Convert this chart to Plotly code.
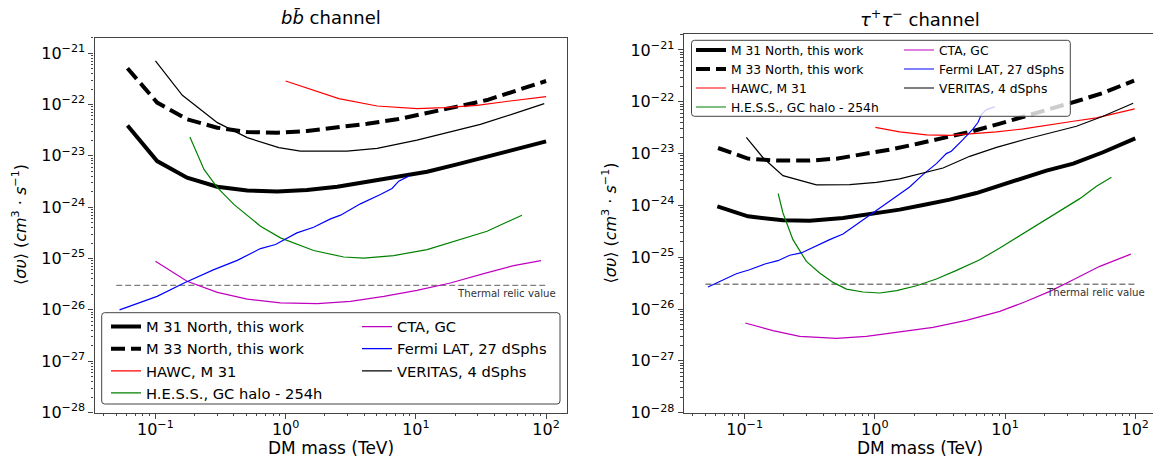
import math
import plotly.graph_objects as go

W, H = 1153, 459
FONT = "DejaVu Sans"

# ---------------- b b-bar channel ----------------
bb_m31_mass = [0.061, 0.103, 0.175, 0.298, 0.507, 0.861, 1.46, 2.49, 4.23, 7.18, 12.2, 20.7, 35.2, 59.8, 100]
bb_m31_sv = [3.9e-23, 7.9e-24, 3.74e-24, 2.5e-24, 2.11e-24, 2.02e-24, 2.15e-24, 2.49e-24, 3.12e-24,
             3.91e-24, 4.9e-24, 6.8e-24, 9.6e-24, 1.34e-23, 1.91e-23]
bb_m33_mass = [0.061, 0.103, 0.175, 0.298, 0.507, 0.861, 1.46, 2.49, 4.23, 7.18, 12.2, 20.7, 35.2, 59.8, 100]
bb_m33_sv = [5.08e-22, 1.09e-22, 5.14e-23, 3.53e-23, 2.9e-23, 2.82e-23, 3.05e-23, 3.53e-23, 4.22e-23,
             5.14e-23, 6.73e-23, 9.08e-23, 1.22e-22, 1.84e-22, 2.87e-22]
bb_hawc_mass = [1.0, 1.55, 2.56, 5.04, 10.2, 16.4, 29.5, 53, 100]
bb_hawc_sv = [2.87e-22, 1.98e-22, 1.3e-22, 9.35e-23, 8.3e-23, 8.7e-23, 9.6e-23, 1.17e-22, 1.42e-22]
bb_hess_mass = [0.184, 0.236, 0.299, 0.40, 0.641, 0.912, 1.64, 2.79, 3.98, 6.76, 12.2, 22, 35.2, 65.3]
bb_hess_sv = [2.32e-23, 5.43e-24, 2.4e-24, 1.13e-24, 4.26e-25, 2.52e-25, 1.43e-25, 1.07e-25, 1.02e-25,
              1.14e-25, 1.49e-25, 2.34e-25, 3.4e-25, 6.97e-25]
bb_cta_mass = [0.1, 0.175, 0.299, 0.507, 0.912, 1.75, 3.15, 5.68, 10.2, 18.4, 33.2, 56.4, 91.4]
bb_cta_sv = [8.8e-26, 3.59e-26, 2.19e-26, 1.62e-26, 1.36e-26, 1.32e-26, 1.46e-26, 1.83e-26, 2.4e-26,
             3.33e-26, 5.07e-26, 7.26e-26, 9.1e-26]
bb_fermi_mass = [0.053, 0.0817, 0.103, 0.166, 0.281, 0.425, 0.641, 0.836, 1.22, 1.64, 2.21, 2.64, 3.75,
                 5.34, 6.56, 7.39, 8.82]
bb_fermi_sv = [1.0e-26, 1.5e-26, 1.83e-26, 3.33e-26, 6.07e-26, 9.2e-26, 1.56e-25, 1.87e-25, 3.15e-25,
               4.07e-25, 5.92e-25, 6.98e-25, 1.16e-24, 1.77e-24, 2.31e-24, 3.21e-24, 4.02e-24]
bb_veritas_mass = [0.1, 0.161, 0.299, 0.507, 0.887, 1.3, 2.96, 5.04, 10.2, 17.3, 31.3, 59.8, 96.8]
bb_veritas_sv = [7.08e-22, 1.51e-22, 4.43e-23, 2.26e-23, 1.44e-23, 1.24e-23, 1.24e-23, 1.4e-23, 2.03e-23,
                 2.82e-23, 4.1e-23, 6.93e-23, 1.04e-22]

# ---------------- tau+ tau- channel ----------------
tt_m31_mass = [0.0617, 0.106, 0.197, 0.316, 0.57, 0.969, 1.55, 2.35, 3.76, 6.03, 9.66, 15.5, 20.8, 33.4, 56.6, 100]
tt_m31_sv = [9.6e-25, 6.15e-25, 5.15e-25, 5.07e-25, 5.71e-25, 6.82e-25, 8.28e-25, 1.02e-24, 1.29e-24,
             1.73e-24, 2.51e-24, 3.75e-24, 4.69e-24, 6.4e-24, 1.06e-23, 1.97e-23]
tt_m33_mass = [0.0625, 0.106, 0.175, 0.316, 0.507, 0.812, 1.3, 2.09, 3.34, 5.36, 8.59, 13.8, 22.1, 35.4, 56.6, 98]
tt_m33_sv = [1.28e-23, 7.98e-24, 7.31e-24, 7.31e-24, 7.98e-24, 9.53e-24, 1.19e-23, 1.53e-23, 2.0e-23,
             2.61e-23, 3.62e-23, 5.09e-23, 7.27e-23, 1.02e-22, 1.48e-22, 2.56e-22]
tt_hawc_mass = [1.01, 1.55, 2.49, 3.76, 5.36, 8.59, 13.8, 22.1, 33.4, 50.4, 71.8, 99]
tt_hawc_sv = [3.21e-23, 2.61e-23, 2.29e-23, 2.25e-23, 2.39e-23, 2.61e-23, 2.99e-23, 3.62e-23, 4.2e-23,
              4.87e-23, 6.08e-23, 7.27e-23]
tt_hess_mass = [0.181, 0.197, 0.235, 0.298, 0.377, 0.478, 0.605, 0.812, 1.09, 1.47, 2.09, 2.97, 4.24,
                6.4, 9.12, 13.0, 18.5, 26.4, 37.5, 50.4, 65.6]
tt_hess_sv = [1.68e-24, 7.13e-25, 2.18e-25, 8.3e-26, 4.95e-26, 3.27e-26, 2.43e-26, 2.13e-26, 2.04e-26,
              2.26e-26, 2.82e-26, 3.79e-26, 5.57e-26, 8.95e-26, 1.51e-25, 2.61e-25, 4.38e-25, 7.68e-25,
              1.35e-24, 2.33e-24, 3.48e-24]
tt_cta_mass = [0.101, 0.165, 0.265, 0.507, 0.861, 1.55, 2.8, 5.05, 9.12, 14.6, 22.1, 33.4, 53.4, 92.5]
tt_cta_sv = [5.37e-27, 3.82e-27, 2.97e-27, 2.71e-27, 2.97e-27, 3.6e-27, 4.43e-27, 6.04e-27, 9.0e-27,
             1.41e-26, 2.19e-26, 3.68e-26, 6.67e-26, 1.15e-25]
tt_fermi_mass = [0.0523, 0.0643, 0.0863, 0.109, 0.143, 0.18, 0.222, 0.272, 0.356, 0.45, 0.57, 0.721,
                 0.912, 1.16, 1.46, 1.85, 2.34, 2.97, 3.54, 3.87, 4.75, 5.68, 6.21, 6.58, 7.19, 8.34]
tt_fermi_sv = [2.66e-26, 3.42e-26, 4.81e-26, 5.74e-26, 7.4e-26, 8.57e-26, 1.09e-25, 1.21e-25, 1.69e-25,
               2.18e-25, 2.8e-25, 4.25e-25, 6.33e-25, 9.6e-25, 1.5e-24, 2.27e-24, 3.92e-24, 6.4e-24,
               9.98e-24, 1.11e-23, 1.86e-23, 2.99e-23, 4.02e-23, 5.65e-23, 7.05e-23, 7.94e-23]
tt_veritas_mass = [0.103, 0.139, 0.197, 0.356, 0.641, 1.03, 1.55, 2.49, 3.34, 5.36, 8.59, 14.6, 22.1,
                   35.4, 56.6, 96.4]
tt_veritas_sv = [2.06e-23, 8.22e-24, 3.75e-24, 2.48e-24, 2.51e-24, 2.79e-24, 3.24e-24, 4.35e-24, 5.27e-24,
                 8.85e-24, 1.32e-23, 1.91e-23, 2.5e-23, 3.36e-23, 5.24e-23, 9.33e-23]

# thermal relic cross section
relic_mass = [0.05, 100]
relic_sv = [3e-26, 3e-26]

# axis ticks
x_ticks = [0.1, 1, 10, 100]
x_ticktext = ["10<sup>−1</sup>", "10<sup>0</sup>", "10<sup>1</sup>", "10<sup>2</sup>"]
y_exps = [-28, -27, -26, -25, -24, -23, -22, -21]
y_ticks = [10.0 ** e for e in y_exps]
y_ticktext = ["10<sup>−%d</sup>" % (-e) for e in y_exps]

labels = ["M 31 North, this work", "M 33 North, this work", "HAWC, M 31", "H.E.S.S., GC halo - 254h",
          "CTA, GC", "Fermi LAT, 27 dSphs", "VERITAS, 4 dSphs"]


def px(x):
    return x / W


def py(y):
    return 1 - y / H


fig = go.Figure()

panels = [
    dict(xa="x", ya="y", leg=("legend", "legend2"),
         data=[(bb_m31_mass, bb_m31_sv), (bb_m33_mass, bb_m33_sv), (bb_hawc_mass, bb_hawc_sv),
               (bb_hess_mass, bb_hess_sv), (bb_cta_mass, bb_cta_sv), (bb_fermi_mass, bb_fermi_sv),
               (bb_veritas_mass, bb_veritas_sv)]),
    dict(xa="x2", ya="y2", leg=("legend3", "legend4"),
         data=[(tt_m31_mass, tt_m31_sv), (tt_m33_mass, tt_m33_sv), (tt_hawc_mass, tt_hawc_sv),
               (tt_hess_mass, tt_hess_sv), (tt_cta_mass, tt_cta_sv), (tt_fermi_mass, tt_fermi_sv),
               (tt_veritas_mass, tt_veritas_sv)]),
]

styles = [
    dict(color="black", width=4),
    dict(color="black", width=4, dash="14px,6px"),
    dict(color="#ff0000", width=1.2),
    dict(color="#008000", width=1.2),
    dict(color="#bf00bf", width=1.2),
    dict(color="#0000ff", width=1.2),
    dict(color="black", width=1.2),
]

for p in panels:
    fig.add_trace(go.Scatter(x=relic_mass, y=relic_sv, mode="lines", xaxis=p["xa"], yaxis=p["ya"],
                             line=dict(color="#808080", width=1.4, dash="6px,3px"),
                             showlegend=False, hoverinfo="skip"))
    for i, (m, s) in enumerate(p["data"]):
        fig.add_trace(go.Scatter(x=m, y=s, mode="lines", name=labels[i], xaxis=p["xa"], yaxis=p["ya"],
                                 line=styles[i], legend=p["leg"][0] if i < 4 else p["leg"][1]))

minor_x = [k * 10.0 ** e for e in range(-2, 3) for k in range(2, 10)]
minor_y = [k * 10.0 ** e for e in range(-28, -20) for k in range(2, 10)]
spine = "#444444"

common_x = dict(type="log", showline=True, linecolor=spine, linewidth=1.2, ticks="outside", ticklen=5,
                tickwidth=1.2, tickcolor=spine, tickmode="array", tickvals=x_ticks, ticktext=x_ticktext,
                tickfont=dict(family=FONT, size=16, color="black"), showgrid=False, zeroline=False,
                automargin=False, ticklabelstandoff=-3,
                minor=dict(ticks="outside", ticklen=2.5, tickwidth=0.9, tickcolor=spine,
                           tickmode="array", tickvals=minor_x, showgrid=False))
common_y = dict(type="log", showline=True, linecolor=spine, linewidth=1.2, ticks="outside", ticklen=5,
                tickwidth=1.2, tickcolor=spine, tickmode="array", tickvals=y_ticks, ticktext=y_ticktext,
                tickfont=dict(family=FONT, size=16, color="black"), showgrid=False, zeroline=False,
                automargin=False, range=[-28, math.log10(2e-21)],
                minor=dict(ticks="outside", ticklen=2.5, tickwidth=0.9, tickcolor=spine,
                           tickmode="array", tickvals=minor_y, showgrid=False))

x_lo = -1.468
fig.update_layout(
    xaxis=dict(common_x, domain=[px(94.5), px(567.3)], range=[x_lo, 2.163], anchor="y", mirror=True),
    yaxis=dict(common_y, domain=[py(412.5), py(37.7)], anchor="x", mirror=True),
    xaxis2=dict(common_x, domain=[px(683.7), 1.0], range=[x_lo, x_lo + (W - 683.7) / 130.2],
                anchor="y2", mirror=True),
    yaxis2=dict(common_y, domain=[py(412.7), py(34.3)], anchor="x2", mirror=False),
)

leg_common = dict(xanchor="left", yanchor="top", bgcolor="rgba(0,0,0,0)", borderwidth=0,
                  tracegroupgap=0, itemwidth=30)
fig.update_layout(
    legend=dict(leg_common, x=px(106), y=py(310.5), font=dict(family=FONT, size=14.7, color="black")),
    legend2=dict(leg_common, x=px(357), y=py(310.5), font=dict(family=FONT, size=14.7, color="black")),
    legend3=dict(leg_common, x=px(691), y=py(35.5), font=dict(family=FONT, size=12.3, color="black")),
    legend4=dict(leg_common, x=px(899), y=py(35.5), font=dict(family=FONT, size=12.3, color="black")),
)


def rounded_box(x0, y0, x1, y1, r=3):
    # rounded rectangle path in pixel space converted to paper coordinates
    pts = (f"M {px(x0 + r)},{py(y0)} L {px(x1 - r)},{py(y0)} Q {px(x1)},{py(y0)} {px(x1)},{py(y0 + r)} "
           f"L {px(x1)},{py(y1 - r)} Q {px(x1)},{py(y1)} {px(x1 - r)},{py(y1)} "
           f"L {px(x0 + r)},{py(y1)} Q {px(x0)},{py(y1)} {px(x0)},{py(y1 - r)} "
           f"L {px(x0)},{py(y0 + r)} Q {px(x0)},{py(y0)} {px(x0 + r)},{py(y0)} Z")
    return dict(type="path", path=pts, xref="paper", yref="paper", layer="above",
                fillcolor="rgba(255,255,255,0.8)", line=dict(color="#444444", width=1))


fig.update_layout(shapes=[rounded_box(101.7, 312.7, 560, 404), rounded_box(691.5, 40.3, 1070.3, 116.3)])

ann = []
ytitle = "⟨<i>συ</i>⟩ (<i>cm</i><sup>3</sup> · <i>s</i><sup>−1</sup>)"
for cx, title, ytx, cy in [(330.9, "<i>b</i><i>b̄</i> channel", 19, 225),
                           (920.1, "<i>τ</i><sup>+</sup><i>τ</i><sup>−</sup> channel", 610, 223.5)]:
    ann.append(dict(x=px(cx), y=py(18), xref="paper", yref="paper", text=title, showarrow=False,
                    xanchor="center", yanchor="middle", font=dict(family=FONT, size=18, color="black")))
    ann.append(dict(x=px(cx), y=py(448), xref="paper", yref="paper", text="DM mass (TeV)", showarrow=False,
                    xanchor="center", yanchor="middle", font=dict(family=FONT, size=17, color="black")))
    ann.append(dict(x=px(ytx), y=py(cy), xref="paper", yref="paper", text=ytitle, showarrow=False,
                    textangle=-90, xanchor="center", yanchor="middle",
                    font=dict(family=FONT, size=16, color="black")))
for xr, yr in [("x", "y"), ("x2", "y2")]:
    ann.append(dict(x=math.log10(20), y=-25.675, xref=xr, yref=yr, text="Thermal relic value",
                    showarrow=False, xanchor="left", yanchor="middle",
                    font=dict(family=FONT, size=10.2, color="#333333")))

fig.update_layout(annotations=ann, width=W, height=H, margin=dict(l=0, r=0, t=0, b=0),
                  paper_bgcolor="white", plot_bgcolor="white", font=dict(family=FONT))

fig.write_html("out.html")
